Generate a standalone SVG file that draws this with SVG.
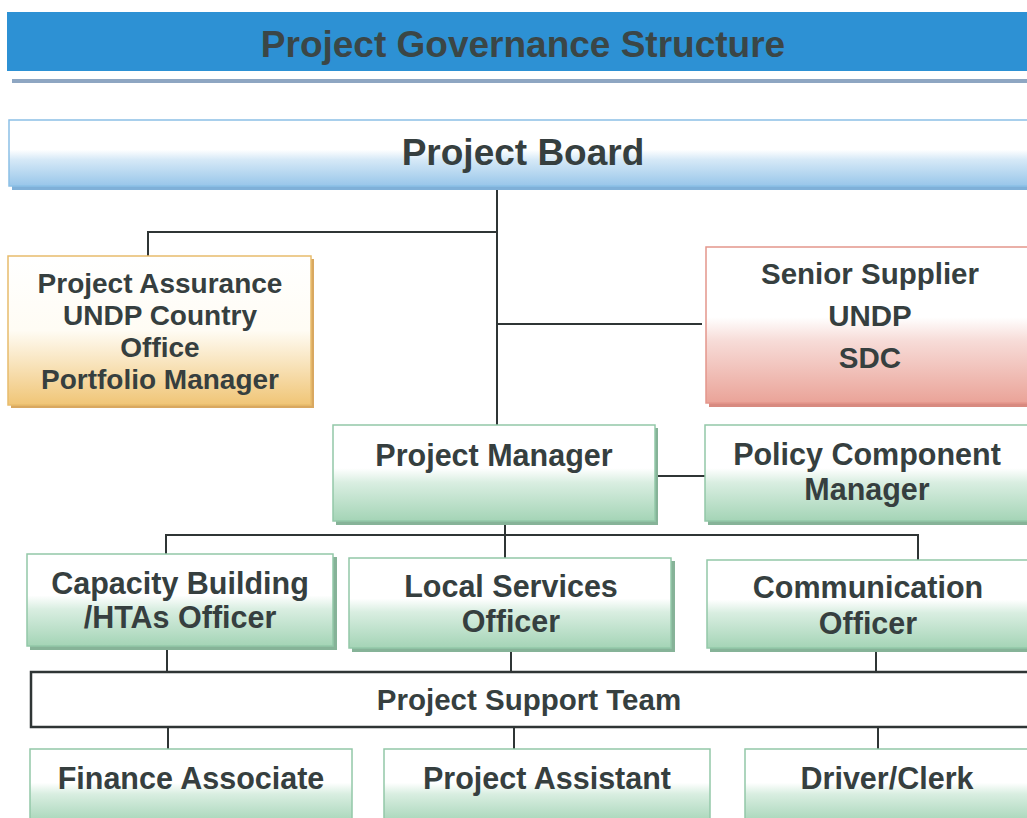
<svg xmlns="http://www.w3.org/2000/svg" width="1027" height="818" viewBox="0 0 1027 818">
  <defs>
    <linearGradient id="gBlue" x1="0" y1="0" x2="0" y2="1">
      <stop offset="0" stop-color="#ffffff"/>
      <stop offset="0.45" stop-color="#ffffff"/>
      <stop offset="0.6" stop-color="#d6e9f7"/>
      <stop offset="1" stop-color="#98c6ea"/>
    </linearGradient>
    <linearGradient id="gOrange" x1="0" y1="0" x2="0" y2="1">
      <stop offset="0" stop-color="#ffffff"/>
      <stop offset="0.5" stop-color="#fffcf4"/>
      <stop offset="1" stop-color="#f0c576"/>
    </linearGradient>
    <linearGradient id="gRed" x1="0" y1="0" x2="0" y2="1">
      <stop offset="0" stop-color="#ffffff"/>
      <stop offset="0.45" stop-color="#ffffff"/>
      <stop offset="0.6" stop-color="#f7dcd8"/>
      <stop offset="1" stop-color="#eaa398"/>
    </linearGradient>
    <linearGradient id="gGreen" x1="0" y1="0" x2="0" y2="1">
      <stop offset="0" stop-color="#ffffff"/>
      <stop offset="0.45" stop-color="#ffffff"/>
      <stop offset="0.6" stop-color="#d9eee1"/>
      <stop offset="1" stop-color="#a4d4b6"/>
    </linearGradient>
    <style>
      .lbl { font-family: "Liberation Sans", Arial, sans-serif; font-weight: bold; fill: #363f3f; text-anchor: middle; }
      .t30 { font-size: 30.5px; }
      .t28 { font-size: 28px; }
      .t29 { font-size: 29.5px; }
      .t37 { font-size: 37px; }
      .conn { stroke: #2f3535; stroke-width: 2; fill: none; }
      .blue { fill: url(#gBlue); stroke: #8cc0e6; stroke-width: 1.5; }
      .orange { fill: url(#gOrange); stroke: #e8bc6c; stroke-width: 1.5; }
      .red { fill: url(#gRed); stroke: #e4978c; stroke-width: 1.5; }
      .green { fill: url(#gGreen); stroke: #93c8a8; stroke-width: 1.5; }
      .shBlue { fill: #7fb0d8; }
      .shOrange { fill: #d9a860; }
      .shRed { fill: #d88a80; }
      .shGreen { fill: #86b398; }
    </style>
  </defs>

  <rect width="1027" height="818" fill="#ffffff"/>

  <!-- header bar -->
  <g id="header">
    <rect x="7" y="12" width="1022" height="59" fill="#2d91d4"/>
    <rect x="12" y="79" width="1017" height="4" fill="#8ea6c2"/>
    <text class="lbl t37" x="523" y="57" fill="#3b4646" style="fill:#3b4646">Project Governance Structure</text>
  </g>

  <!-- connectors -->
  <g id="connectors">
    <path class="conn" d="M497 185 V425"/>
    <path class="conn" d="M497 232 H148 V258"/>
    <path class="conn" d="M497 324 H702"/>
    <path class="conn" d="M656 476 H706"/>
    <path class="conn" d="M505 522 V558"/>
    <path class="conn" d="M166 558 V535 H918 V560"/>
    <path class="conn" d="M167 648 V672"/>
    <path class="conn" d="M511 650 V672"/>
    <path class="conn" d="M876 650 V672"/>
    <path class="conn" d="M168 727 V750"/>
    <path class="conn" d="M514 727 V750"/>
    <path class="conn" d="M878 727 V750"/>
  </g>

  <g id="project-board">
    <rect class="shBlue" x="12" y="123" width="1020" height="67"/>
    <rect class="blue" x="9" y="120" width="1020" height="66"/>
    <text class="lbl t37" x="523" y="165">Project Board</text>
  </g>

  <g id="project-assurance">
    <rect class="shOrange" x="11" y="259" width="303" height="149"/>
    <rect class="orange" x="8" y="256" width="303" height="149"/>
    <text class="lbl t28" x="160" y="293">Project Assurance</text>
    <text class="lbl t28" x="160" y="325">UNDP Country</text>
    <text class="lbl t28" x="160" y="357">Office</text>
    <text class="lbl t28" x="160" y="389">Portfolio Manager</text>
  </g>

  <g id="senior-supplier">
    <rect class="shRed" x="709" y="250" width="322" height="157"/>
    <rect class="red" x="706" y="247" width="322" height="156"/>
    <text class="lbl t29" x="870" y="284">Senior Supplier</text>
    <text class="lbl t29" x="870" y="326">UNDP</text>
    <text class="lbl t29" x="870" y="368">SDC</text>
  </g>

  <g id="project-manager">
    <rect class="shGreen" x="336" y="428" width="322" height="97"/>
    <rect class="green" x="333" y="425" width="322" height="96"/>
    <text class="lbl t30" x="494" y="466">Project Manager</text>
  </g>

  <g id="policy-component-manager">
    <rect class="shGreen" x="708" y="428" width="322" height="97"/>
    <rect class="green" x="705" y="425" width="324" height="96"/>
    <text class="lbl t30" x="867" y="465">Policy Component</text>
    <text class="lbl t30" x="867" y="500">Manager</text>
  </g>

  <g id="capacity-building-officer">
    <rect class="shGreen" x="30" y="557" width="307" height="93"/>
    <rect class="green" x="27" y="554" width="306" height="92"/>
    <text class="lbl t30" x="180" y="594">Capacity Building</text>
    <text class="lbl t30" x="180" y="628">/HTAs Officer</text>
  </g>

  <g id="local-services-officer">
    <rect class="shGreen" x="352" y="561" width="323" height="91"/>
    <rect class="green" x="349" y="558" width="322" height="90"/>
    <text class="lbl t30" x="511" y="597">Local Services</text>
    <text class="lbl t30" x="511" y="632">Officer</text>
  </g>

  <g id="communication-officer">
    <rect class="shGreen" x="710" y="563" width="320" height="89"/>
    <rect class="green" x="707" y="560" width="322" height="88"/>
    <text class="lbl t30" x="868" y="598">Communication</text>
    <text class="lbl t30" x="868" y="634">Officer</text>
  </g>

  <g id="project-support-team">
    <rect x="31" y="672" width="1000" height="55" fill="#ffffff" stroke="#2f3535" stroke-width="2.5"/>
    <text class="lbl t29" x="529" y="710">Project Support Team</text>
  </g>

  <g id="finance-associate">
    <rect class="green" x="30" y="749" width="322" height="75"/>
    <text class="lbl t30" x="191" y="789">Finance Associate</text>
  </g>

  <g id="project-assistant">
    <rect class="green" x="384" y="749" width="326" height="75"/>
    <text class="lbl t30" x="547" y="789">Project Assistant</text>
  </g>

  <g id="driver-clerk">
    <rect class="green" x="745" y="749" width="286" height="75"/>
    <text class="lbl t30" x="887" y="789">Driver/Clerk</text>
  </g>
</svg>
